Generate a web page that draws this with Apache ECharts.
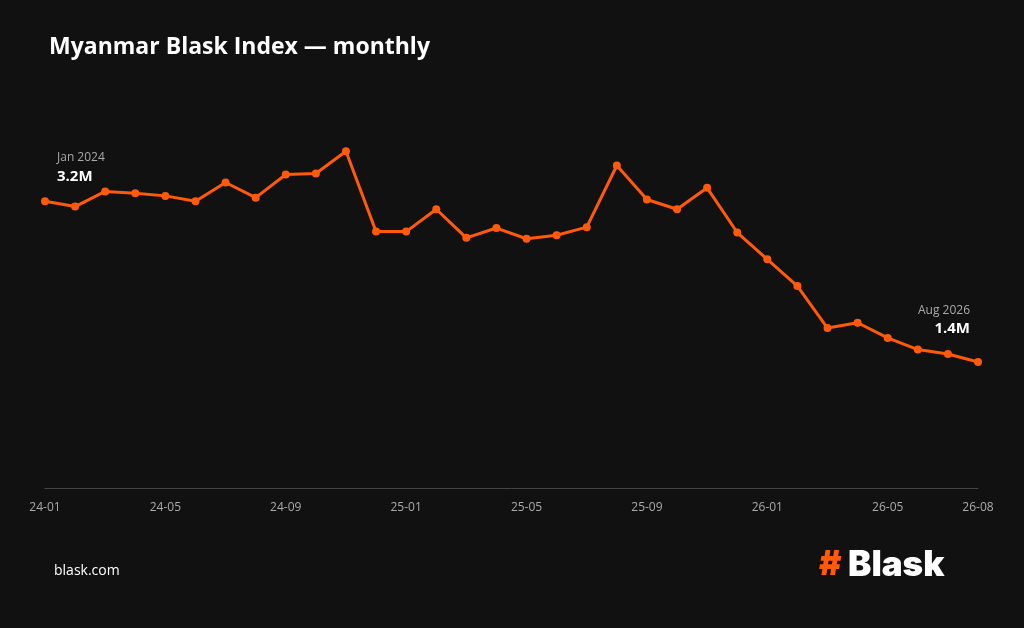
<!DOCTYPE html>
<html><head><meta charset="utf-8">
<script src="https://cdn.jsdelivr.net/npm/echarts@6/dist/echarts.min.js"></script>
<style>html,body{margin:0;background:#111111}#c{width:1024px;height:628px}</style>
</head><body><div id="c"></div>
<script>
const categories = ["24-01","24-02","24-03","24-04","24-05","24-06","24-07","24-08","24-09","24-10","24-11","24-12",
"25-01","25-02","25-03","25-04","25-05","25-06","25-07","25-08","25-09","25-10","25-11","25-12",
"26-01","26-02","26-03","26-04","26-05","26-06","26-07","26-08"];
const values = [3.21,3.15,3.32,3.30,3.27,3.21,3.42,3.25,3.51,3.52,3.77,2.87,
2.87,3.12,2.80,2.91,2.79,2.83,2.92,3.61,3.23,3.12,3.36,2.86,
2.56,2.26,1.79,1.85,1.68,1.55,1.50,1.41];
const firstLabel = ["Jan 2024","3.2M"];
const lastLabel = ["Aug 2026","1.4M"];
const last = values.length-1;
const data = values.map((v,i)=>{
  if(i===0) return {value:v,label:{show:true,position:'top',align:'left',offset:[12,-6],
    formatter:'{a|'+firstLabel[0]+'}\n{b|'+firstLabel[1]+'}',rich:{a:{color:'#aaaaaa',fontSize:12,lineHeight:17},b:{color:'#ffffff',fontSize:15,fontWeight:'bold',lineHeight:20}}}};
  if(i===last) return {value:v,label:{show:true,position:'top',align:'right',offset:[-8,-14],
    formatter:'{a|'+lastLabel[0]+'}\n{b|'+lastLabel[1]+'}',rich:{a:{color:'#aaaaaa',fontSize:12,lineHeight:17,align:'right'},b:{color:'#ffffff',fontSize:15,fontWeight:'bold',lineHeight:20,align:'right'}}}};
  return v;
});
const chart = echarts.init(document.getElementById('c'));
chart.setOption({
  backgroundColor:'#111111',
  animation:false,
  textStyle:{fontFamily:'Open Sans'},
  title:{text:'Myanmar Blask Index — monthly',left:44,top:31,textStyle:{color:'#ffffff',fontSize:23,fontWeight:'bold',fontFamily:'Open Sans'}},
  grid:{left:45,right:46,top:86,bottom:140},
  xAxis:{type:'category',data:categories,boundaryGap:false,
    axisLine:{lineStyle:{color:'#444444'}},axisTick:{show:false},
    axisLabel:{color:'#aaaaaa',fontSize:12,margin:14,interval:(i)=>i%4===0||i===last,showMaxLabel:true}},
  yAxis:{type:'value',min:0,max:4.5,show:false,splitLine:{show:false}},
  series:[{type:'line',data:data,symbol:'circle',symbolSize:8,
    lineStyle:{color:'#ff5a0a',width:3},itemStyle:{color:'#ff5a0a'}}],
  graphic:[
    {type:'text',left:54,top:564,style:{text:'blask.com',fill:'#ffffff',fontSize:14,fontFamily:'Open Sans'}},
    {type:'text',left:819,top:548,style:{text:'#',fill:'#ff5a0a',fontSize:34,fontWeight:900,fontFamily:'Inter'}},
    {type:'text',left:848,top:548,style:{text:'Blask',fill:'#ffffff',fontSize:35,fontWeight:900,fontFamily:'Inter'}}
  ]
});
</script></body></html>
